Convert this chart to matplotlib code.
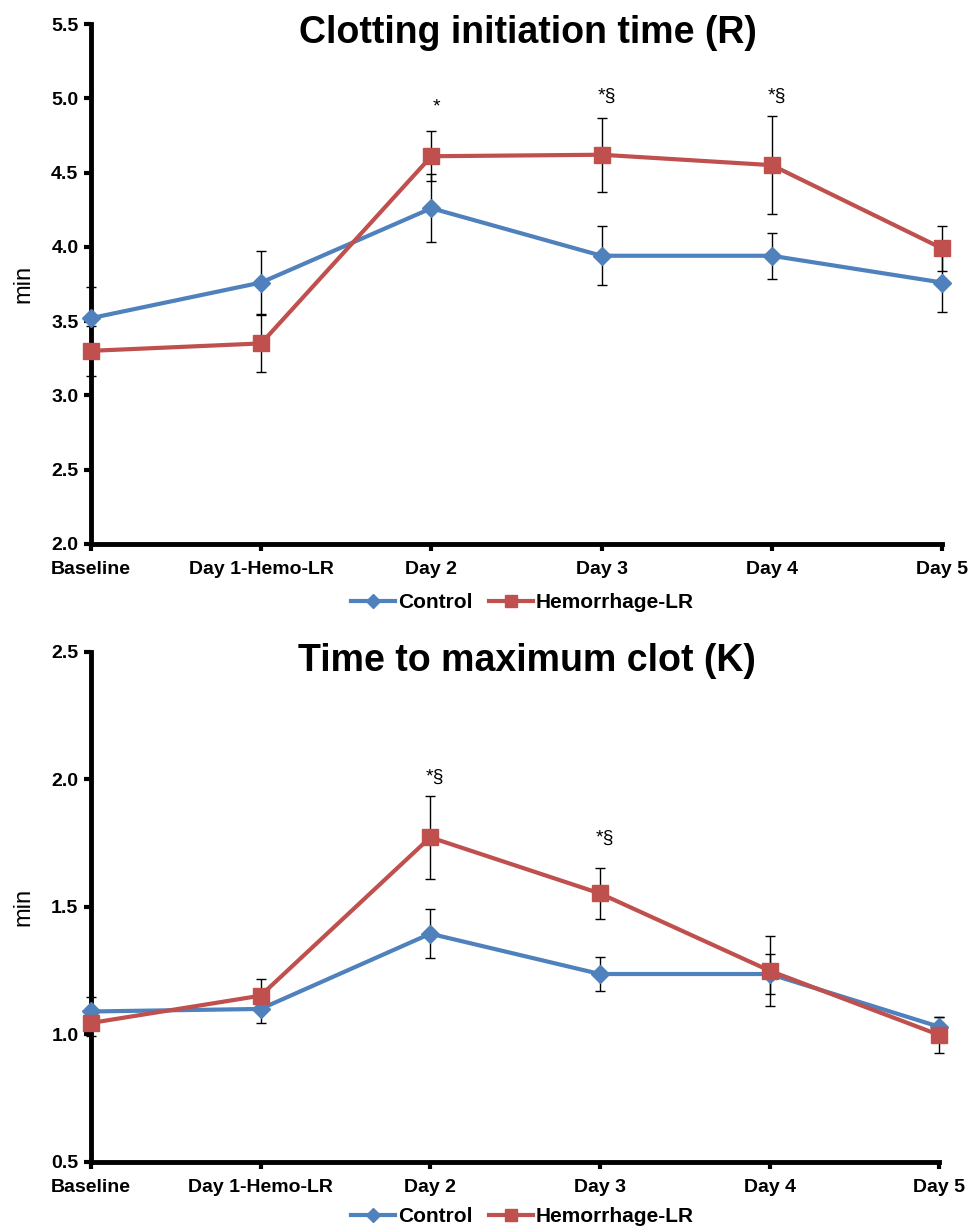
import matplotlib
matplotlib.use("Agg")
import matplotlib.pyplot as plt

plt.rcParams['font.family'] = ['Liberation Sans', 'DejaVu Sans']

categories = ['Baseline', 'Day 1-Hemo-LR', 'Day 2', 'Day 3', 'Day 4', 'Day 5']
series_names = ['Control', 'Hemorrhage-LR']

# clotting initiation time (R)
r_control = [3.52, 3.76, 4.26, 3.94, 3.94, 3.76]
r_control_err = [0.21, 0.21, 0.23, 0.20, 0.155, 0.20]
r_hemo = [3.30, 3.35, 4.61, 4.62, 4.55, 3.99]
r_hemo_err = [0.17, 0.19, 0.17, 0.25, 0.33, 0.15]
r_mark_pos = [2, 3, 4]
r_mark_y = [4.94, 5.01, 5.01]
r_mark_text = ['*', '*§', '*§']

# time to maximum clot (K)
k_control = [1.09, 1.10, 1.395, 1.237, 1.237, 1.03]
k_control_err = [0.055, 0.055, 0.096, 0.068, 0.08, 0.04]
k_hemo = [1.045, 1.152, 1.773, 1.553, 1.25, 0.998]
k_hemo_err = [0.05, 0.065, 0.163, 0.10, 0.137, 0.07]
k_mark_pos = [2, 3]
k_mark_y = [2.01, 1.77]
k_mark_text = ['*§', '*§']

blue = '#4F81BD'
red = '#C0504D'

fig = plt.figure(figsize=(9.75, 12.31), dpi=100)
ax1 = fig.add_axes([0.0933, 0.5581, 0.8728, 0.4224])
ax2 = fig.add_axes([0.0933, 0.0561, 0.870, 0.4143])


def draw(ax, ctrl, ctrl_err, hemo, hemo_err, ylim, yticks, title, title_y,
         mpos, my, mtext):
    x = list(range(len(categories)))
    for vals, errs in [(ctrl, ctrl_err), (hemo, hemo_err)]:
        eb = ax.errorbar(x, vals, yerr=errs, fmt='none', ecolor='black',
                         elinewidth=1, capsize=3.8, capthick=1, zorder=3)
        for a in list(eb.lines[1]) + list(eb.lines[2]):
            a.set_clip_on(False)
    ax.plot(x, ctrl, color=blue, lw=3, marker='D', ms=9, mec=blue,
            label=series_names[0], clip_on=False, zorder=4)
    ax.plot(x, hemo, color=red, lw=3, marker='s', ms=11, mec=red,
            label=series_names[1], clip_on=False, zorder=5)
    for p, yy, t in zip(mpos, my, mtext):
        ax.text(p + 0.03, yy, t, ha='center', va='center', fontsize=14)
    ax.set_xlim(0, 5)
    ax.set_ylim(*ylim)
    ax.set_yticks(yticks)
    ax.set_yticklabels([f'{v:.1f}' for v in yticks], fontweight='bold', fontsize=14)
    ax.set_xticks(x)
    ax.set_xticklabels(categories, fontweight='bold', fontsize=14)
    for s in ['top', 'right']:
        ax.spines[s].set_visible(False)
    for s in ['left', 'bottom']:
        ax.spines[s].set_linewidth(3.5)
    ax.tick_params(axis='both', direction='out', length=5, width=3)
    ax.tick_params(axis='x', pad=7)
    ax.tick_params(axis='y', pad=4)
    ax.set_ylabel('min', fontsize=17, labelpad=12)
    ax.text(0.514, title_y, title, transform=ax.transAxes, ha='center',
            va='center', fontsize=27, fontweight='bold')


draw(ax1, r_control, r_control_err, r_hemo, r_hemo_err, (2.0, 5.5),
     [2.0, 2.5, 3.0, 3.5, 4.0, 4.5, 5.0, 5.5], 'Clotting initiation time (R)',
     0.983, r_mark_pos, r_mark_y, r_mark_text)
draw(ax2, k_control, k_control_err, k_hemo, k_hemo_err, (0.5, 2.5),
     [0.5, 1.0, 1.5, 2.0, 2.5], 'Time to maximum clot (K)',
     0.982, k_mark_pos, k_mark_y, k_mark_text)

for ax, ly in [(ax1, 0.5102), (ax2, 0.0114)]:
    h, l = ax.get_legend_handles_labels()
    fig.legend(h, l, loc='center', bbox_to_anchor=(0.536, ly), ncol=2,
               frameon=False, handlelength=2.1, handletextpad=0.15,
               columnspacing=0.8, borderpad=0.1, markerscale=0.8,
               prop={'weight': 'bold', 'size': 15})

fig.savefig('out.png', dpi=100)
